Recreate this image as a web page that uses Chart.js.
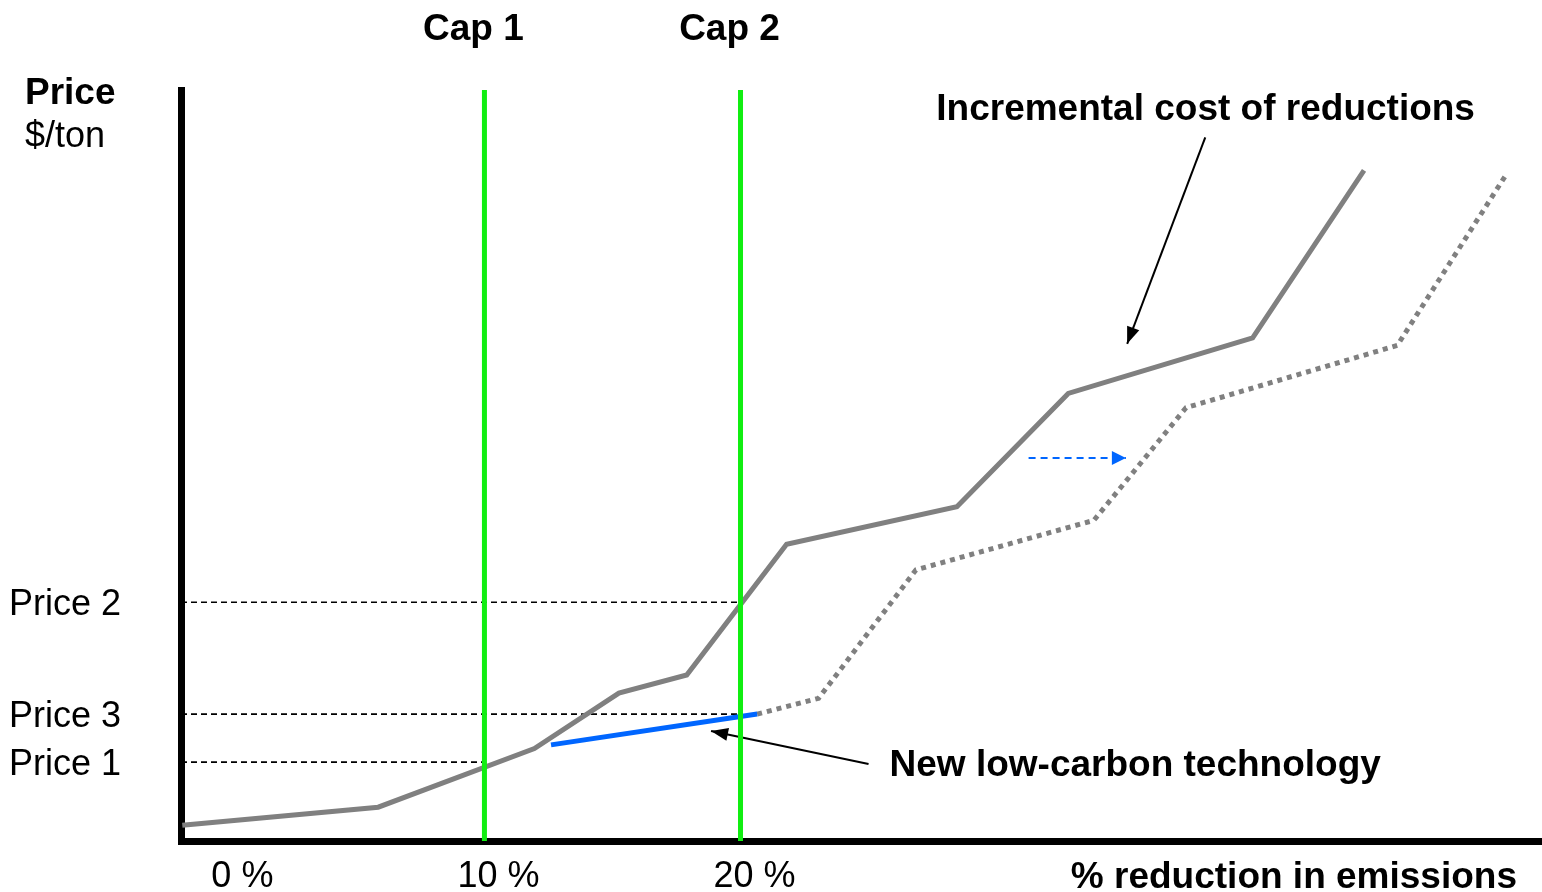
<!DOCTYPE html>
<html>
<head>
<meta charset="utf-8">
<script src="https://cdn.jsdelivr.net/npm/chart.js@4.4.1/dist/chart.umd.min.js"></script>
<style>
  html, body { margin: 0; padding: 0; background: #fff; }
  #wrap { width: 1542px; height: 892px; }
</style>
</head>
<body>
<div id="wrap"><canvas id="chart"></canvas></div>
<script>
// incremental cost of reductions (% reduction -> $/ton)
var costX = [-1.8, 5.85, 11.95, 15.25, 17.9, 21.8, 28.45, 32.8, 40.0, 44.35];
var costY = [2.1, 4.5, 12.3, 19.7, 22.1, 39.5, 44.5, 59.6, 67.0, 89.3];

// new low-carbon technology segment
var techX = [12.6, 20.65];
var techY = [12.8, 16.9];

// cost curve after the new technology comes in
var shiftX = [20.65, 23.05, 26.85, 33.8, 37.4, 45.65, 49.95];
var shiftY = [16.9, 19.0, 36.1, 42.7, 57.7, 66.0, 89.0];

// caps and prices
var capNames = ['Cap 1', 'Cap 2'];
var capValues = [10, 20];
var priceNames = ['Price 1', 'Price 3', 'Price 2'];
var priceValues = [10.5, 16.9, 31.8];
var priceCap = [10, 20, 20];   // cap where each price line stops

var xTicks = [0, 10, 20];
var xMin = -1.85, xMax = 51.3;
var yMin = 0, yMax = 100;

// arrows: [x0, y0, x1, y1]
var costArrow = [38.15, 93.7, 35.1, 66.2];
var techArrow = [25.0, 10.25, 18.85, 14.65];
var shiftArrow = [31.25, 51.0, 35.05, 51.0];

var FONT = "'Liberation Sans', Arial, sans-serif";

function pts(xs, ys) {
  return xs.map(function (v, i) { return { x: v, y: ys[i] }; });
}
function arrowPts(a) {
  return [{ x: a[0], y: a[1] }, { x: a[2], y: a[3] }];
}

var datasets = [];

// green cap lines on top
capValues.forEach(function (c) {
  datasets.push({ data: [{ x: c, y: yMin }, { x: c, y: yMax }], borderColor: '#11ee11', borderWidth: 5 });
});

datasets.push({ data: pts(techX, techY), borderColor: '#0066ff', borderWidth: 5, borderCapStyle: 'butt' });
datasets.push({ data: pts(costX, costY), borderColor: '#808080', borderWidth: 5 });
datasets.push({ data: pts(shiftX, shiftY), borderColor: '#808080', borderWidth: 5, borderDash: [5, 5] });

priceValues.forEach(function (p, i) {
  datasets.push({ data: [{ x: xMin, y: p }, { x: priceCap[i], y: p }], borderColor: '#000', borderWidth: 1.6, borderDash: [6, 4] });
});

datasets.push({ data: arrowPts(costArrow), borderColor: '#000', borderWidth: 2, arrowHead: [17, 13] });
datasets.push({ data: arrowPts(techArrow), borderColor: '#000', borderWidth: 2, arrowHead: [17, 13] });
datasets.push({ data: arrowPts(shiftArrow), borderColor: '#0066ff', borderWidth: 2, borderDash: [7, 5], arrowHead: [14, 14] });

var annotate = {
  id: 'annotate',
  afterDatasetsDraw: function (chart) {
    var ctx = chart.ctx, xs = chart.scales.x, ys = chart.scales.y, area = chart.chartArea;

    // arrow heads at the end of marked segments
    chart.data.datasets.forEach(function (ds, i) {
      if (!ds.arrowHead) return;
      var el = chart.getDatasetMeta(i).data;
      var a = el[el.length - 2], b = el[el.length - 1];
      var ang = Math.atan2(b.y - a.y, b.x - a.x);
      ctx.save();
      ctx.translate(b.x, b.y);
      ctx.rotate(ang);
      ctx.beginPath();
      ctx.moveTo(0, 0);
      ctx.lineTo(-ds.arrowHead[0], -ds.arrowHead[1] / 2);
      ctx.lineTo(-ds.arrowHead[0], ds.arrowHead[1] / 2);
      ctx.closePath();
      ctx.fillStyle = ds.borderColor;
      ctx.fill();
      ctx.restore();
    });

    ctx.save();
    ctx.fillStyle = '#000';
    ctx.textBaseline = 'middle';

    ctx.font = 'bold 37px ' + FONT;
    ctx.textAlign = 'center';
    capValues.forEach(function (c, i) {
      ctx.fillText(capNames[i], xs.getPixelForValue(c) - 11, 30);
    });

    ctx.textAlign = 'left';
    ctx.fillText('Price', 25, 94);
    ctx.fillText('Incremental cost of reductions', xs.getPixelForValue(costArrow[0]) - 269, ys.getPixelForValue(costArrow[1]) - 28);
    ctx.fillText('New low-carbon technology', xs.getPixelForValue(techArrow[0]) + 21, ys.getPixelForValue(techArrow[1]) + 2);

    ctx.textAlign = 'right';
    ctx.fillText('% reduction in emissions', area.right - 25, area.bottom + 37);

    ctx.textAlign = 'left';
    ctx.font = '36px ' + FONT;
    ctx.fillText('$/ton', 25, 137);
    ctx.restore();
  }
};

new Chart(document.getElementById('chart'), {
  type: 'line',
  data: { datasets: datasets },
  options: {
    responsive: true,
    maintainAspectRatio: false,
    animation: false,
    layout: { padding: { top: 90, left: 9, right: 0, bottom: 0 } },
    elements: { point: { radius: 0, hoverRadius: 0 }, line: { tension: 0, borderJoinStyle: 'miter' } },
    plugins: { legend: { display: false }, tooltip: { enabled: false } },
    events: [],
    scales: {
      x: {
        type: 'linear',
        min: xMin,
        max: xMax,
        grid: { display: false, drawTicks: false },
        border: { color: '#000', width: 7 },
        afterBuildTicks: function (scale) { scale.ticks = xTicks.map(function (v) { return { value: v }; }); },
        afterFit: function (scale) { scale.height = 51; },
        ticks: {
          color: '#000',
          font: { family: FONT, size: 36 },
          padding: 14,
          labelOffset: 14,
          maxRotation: 0,
          callback: function (v) { return v + ' %'; }
        }
      },
      y: {
        type: 'linear',
        min: yMin,
        max: yMax,
        grid: { display: false, drawTicks: false },
        border: { color: '#000', width: 7 },
        afterBuildTicks: function (scale) { scale.ticks = priceValues.map(function (v) { return { value: v }; }); },
        afterFit: function (scale) { scale.width = 172; },
        ticks: {
          color: '#000',
          font: { family: FONT, size: 36 },
          crossAlign: 'far',
          labelOffset: 3,
          callback: function (v) { return priceNames[priceValues.indexOf(v)]; }
        }
      }
    }
  },
  plugins: [annotate]
});
</script>
</body>
</html>
